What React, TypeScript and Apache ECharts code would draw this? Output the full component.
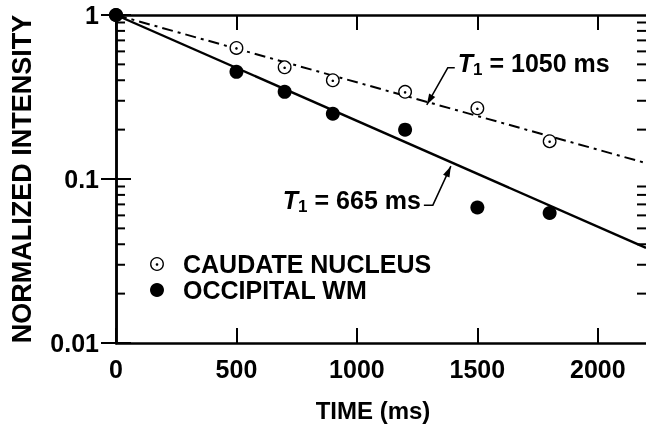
import React, { useEffect, useRef } from "react";
import * as echarts from "echarts";

const times = [0, 500, 700, 900, 1200, 1500, 1800];
const caudate = [1, 0.63, 0.48, 0.4, 0.34, 0.27, 0.17];
const occipital = [1, 0.45, 0.34, 0.25, 0.2, 0.067, 0.062];

const fitTimes = [0, 2200];
const fitCaudate = [1, 0.125];
const fitOccipital = [1, 0.038];

const xTicks = [0, 500, 1000, 1500, 2000];
const yMinorTicks = [0.02, 0.03, 0.04, 0.05, 0.06, 0.07, 0.08, 0.09, 0.2, 0.3, 0.4, 0.5, 0.6, 0.7, 0.8, 0.9];

const legendNames = ["CAUDATE NUCLEUS", "OCCIPITAL WM"];
const annot1050 = { label: "1050 ms", at: 1290 };
const annot665 = { label: "665 ms", at: 1390 };

const FONT = '"Liberation Sans", Arial, Helvetica, sans-serif';
const FS = 25;

function logInterp(t: number, xs: number[], ys: number[]) {
  const f = (t - xs[0]) / (xs[1] - xs[0]);
  return Math.exp(Math.log(ys[0]) + (Math.log(ys[1]) - Math.log(ys[0])) * f);
}

function arrowHead(tip: number[], from: number[], len: number, half: number) {
  const dx = tip[0] - from[0];
  const dy = tip[1] - from[1];
  const d = Math.hypot(dx, dy);
  const ux = dx / d, uy = dy / d;
  const bx = tip[0] - ux * len, by = tip[1] - uy * len;
  return [
    [tip[0], tip[1]],
    [bx - uy * half, by + ux * half],
    [bx + uy * half, by - ux * half],
  ];
}

export default function App() {
  const ref = useRef<HTMLDivElement>(null);
  useEffect(() => {
    if (!ref.current) return;
    const chart = echarts.init(ref.current, null, { renderer: "svg" });
    const labelStyle = { fontFamily: FONT, fontWeight: "bold" as const, fontSize: FS, color: "#000" };
    const axisLine = { show: true, lineStyle: { color: "#000", width: 2.5 } };
    const tickStyle = { width: 2, color: "#000" };
    const option: any = {
      animation: false,
      grid: { left: 113, right: 0, top: 15, bottom: 85 },
      xAxis: [
        {
          type: "value", min: 0, max: 2200, position: "bottom",
          axisLine, splitLine: { show: false },
          axisTick: { show: true, inside: true, length: 15, customValues: xTicks, lineStyle: tickStyle },
          axisLabel: { ...labelStyle, margin: 13, customValues: xTicks, formatter: (v: number) => String(v) },
          name: "TIME (ms)", nameLocation: "middle", nameGap: 55,
          nameTextStyle: { ...labelStyle, fontSize: 24, padding: [0, 16, 0, 0] },
        },
        {
          type: "value", min: 0, max: 2200, position: "top",
          axisLine, splitLine: { show: false },
          axisTick: { show: true, inside: true, length: 15, customValues: xTicks, lineStyle: tickStyle },
          axisLabel: { show: false },
        },
      ],
      yAxis: [
        {
          type: "log", logBase: 10, min: 0.01, max: 1, position: "left",
          axisLine, splitLine: { show: false },
          axisTick: { show: true, inside: true, length: 15, lineStyle: tickStyle },
          axisLabel: { ...labelStyle, margin: 17, formatter: (v: number) => String(v) },
          name: "NORMALIZED INTENSITY", nameLocation: "middle", nameGap: 81,
          nameTextStyle: { ...labelStyle, fontSize: 27 },
        },
        {
          type: "log", logBase: 10, min: 0.01, max: 1, position: "right",
          axisLine, splitLine: { show: false },
          axisTick: { show: true, inside: true, length: 15, lineStyle: tickStyle },
          axisLabel: { show: false },
        },
      ],
      series: [
        {
          type: "line", name: "fit1050", data: fitTimes.map((t, i) => [t, fitCaudate[i]]),
          symbol: "none", lineStyle: { color: "#000", width: 2, type: [11, 5, 3, 5] }, z: 2,
        },
        {
          type: "line", name: "fit665", data: fitTimes.map((t, i) => [t, fitOccipital[i]]),
          symbol: "none", lineStyle: { color: "#000", width: 2.4 }, z: 2,
        },
        {
          type: "custom", name: legendNames[0], data: times.map((t, i) => [t, caudate[i]]), z: 3, clip: false,
          renderItem: (params: any, api: any) => {
            const p = api.coord([api.value(0), api.value(1)]);
            return {
              type: "group",
              children: [
                { type: "circle", shape: { cx: p[0], cy: p[1], r: 6.3 }, style: { fill: "#fff", stroke: "#000", lineWidth: 1.3 } },
                { type: "circle", shape: { cx: p[0], cy: p[1] + 0.5, r: 1.3 }, style: { fill: "#000" } },
              ],
            };
          },
        },
        {
          type: "scatter", name: legendNames[1], data: times.map((t, i) => [t, occipital[i]]),
          symbol: "circle", symbolSize: 14, itemStyle: { color: "#000", opacity: 1 }, z: 4, clip: false,
        },
      ],
    };
    chart.setOption(option);

    const minorLines: any[] = [];
    yMinorTicks.forEach((v) => {
      const pl = chart.convertToPixel({ xAxisIndex: 0, yAxisIndex: 0 }, [0, v]) as number[];
      const pr = chart.convertToPixel({ xAxisIndex: 0, yAxisIndex: 0 }, [2200, v]) as number[];
      minorLines.push({ type: "line", z: 10, shape: { x1: pl[0], y1: pl[1], x2: pl[0] + 9, y2: pl[1] }, style: { stroke: "#000", lineWidth: 2 } });
      minorLines.push({ type: "line", z: 10, shape: { x1: pr[0] - 9, y1: pr[1], x2: pr[0], y2: pr[1] }, style: { stroke: "#000", lineWidth: 2 } });
    });

    const tip1 = chart.convertToPixel({ gridIndex: 0 }, [annot1050.at, logInterp(annot1050.at, fitTimes, fitCaudate)]) as number[];
    const tip2 = chart.convertToPixel({ gridIndex: 0 }, [annot665.at, logInterp(annot665.at, fitTimes, fitOccipital)]) as number[];
    tip1[1] += 3;
    tip2[1] += 4;
    const e1 = [tip1[0] + 21, tip1[1] - 37];
    const f1 = [tip1[0] + 28, tip1[1] - 37];
    const e2 = [tip2[0] - 18, tip2[1] + 39];
    const f2 = [tip2[0] - 27, tip2[1] + 39];
    const rich = {
      t: { fontFamily: FONT, fontWeight: "bold", fontStyle: "italic", fontSize: FS, lineHeight: 30, fill: "#000" },
      s: { fontFamily: FONT, fontWeight: "bold", fontSize: 17, lineHeight: 17, verticalAlign: "bottom", fill: "#000" },
      n: { fontFamily: FONT, fontWeight: "bold", fontSize: FS, lineHeight: 30, fill: "#000" },
    };
    const lx = 157;
    const ly = [264, 290];
    chart.setOption({
      graphic: [
        ...minorLines,
        { type: "polyline", shape: { points: [f1, e1, tip1] }, style: { stroke: "#000", lineWidth: 1.5, fill: null } },
        { type: "polygon", shape: { points: arrowHead(tip1, e1, 11, 3.5) }, style: { fill: "#000" } },
        {
          type: "text", x: f1[0] + 3, y: f1[1] - 5,
          style: { text: "{t|T}{s|1}{n| = " + annot1050.label + "}", rich, align: "left", verticalAlign: "middle" },
        },
        { type: "polyline", shape: { points: [f2, e2, tip2] }, style: { stroke: "#000", lineWidth: 1.5, fill: null } },
        { type: "polygon", shape: { points: arrowHead(tip2, e2, 11, 3.5) }, style: { fill: "#000" } },
        {
          type: "text", x: f2[0] - 3, y: f2[1] - 5,
          style: { text: "{t|T}{s|1}{n| = " + annot665.label + "}", rich, align: "right", verticalAlign: "middle" },
        },
        { type: "circle", shape: { cx: lx, cy: ly[0], r: 6.3 }, style: { fill: "#fff", stroke: "#000", lineWidth: 1.3 } },
        { type: "circle", shape: { cx: lx, cy: ly[0] + 0.5, r: 1.3 }, style: { fill: "#000" } },
        { type: "circle", shape: { cx: lx, cy: ly[1], r: 7 }, style: { fill: "#000" } },
        {
          type: "text", x: lx + 26, y: ly[0],
          style: { text: legendNames[0], font: `bold ${FS}px ${FONT}`, fill: "#000", align: "left", verticalAlign: "middle" },
        },
        {
          type: "text", x: lx + 26, y: ly[1],
          style: { text: legendNames[1], font: `bold ${FS}px ${FONT}`, fill: "#000", align: "left", verticalAlign: "middle" },
        },
      ],
    });
    return () => chart.dispose();
  }, []);
  return <div ref={ref} style={{ position: "fixed", left: 0, top: 0, width: 646, height: 428 }} />;
}
